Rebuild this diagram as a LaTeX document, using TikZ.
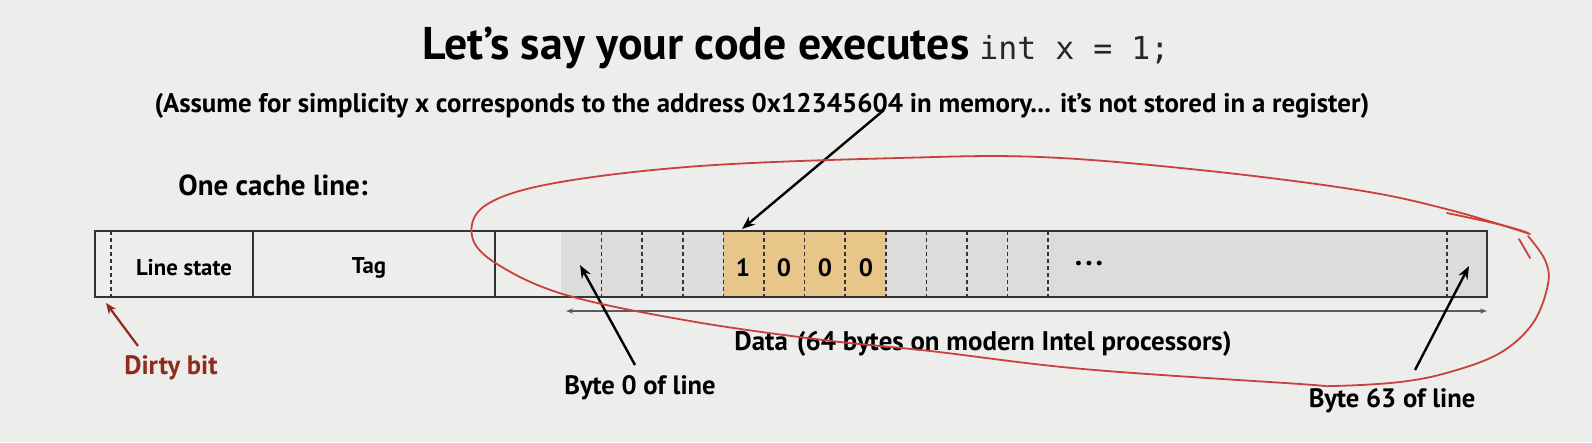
\documentclass[tikz,border=0pt]{standalone}
\usepackage{fontspec}
\newfontfamily\cf{PT Sans}
\newfontfamily\mono{DejaVu Sans Mono}
\usetikzlibrary{arrows.meta}
\definecolor{bg}{HTML}{EDEEEC}
\definecolor{cellgray}{HTML}{DCDDDB}
\definecolor{cellorange}{HTML}{E8C588}
\definecolor{boxline}{HTML}{333333}
\definecolor{dirtyred}{HTML}{8E2B1C}
\definecolor{penred}{HTML}{C9403C}
\tikzset{
  lbl/.style={font=\cf\bfseries\fontsize{26.6}{30}\selectfont, text=black, inner sep=0pt},
  inlbl/.style={font=\cf\bfseries\fontsize{22.8}{27}\selectfont, text=black, inner sep=0pt},
  digit/.style={font=\cf\bfseries\fontsize{25}{29}\selectfont, text=black, inner sep=0pt},
  sep/.style={draw=boxline, line width=1.6pt, dash pattern=on 4pt off 3pt},
  solidsep/.style={draw=boxline, line width=1.8pt},
  arr/.style={draw=black, line width=2.4pt, -{Stealth[length=13pt,width=10pt]}},
  dirtyarr/.style={draw=dirtyred, line width=2.2pt, -{Stealth[length=11pt,width=9pt]}},
  datarr/.style={draw=boxline!80, line width=1.4pt, {Stealth[length=7pt,width=5pt]}-{Stealth[length=7pt,width=5pt]}},
  pen/.style={draw=penred, line width=1.8pt, line cap=round, line join=round},
}
\begin{document}
\begin{tikzpicture}[x=1pt,y=-1pt]
\fill[bg] (0,0) rectangle (1592,442);
\useasboundingbox (0,0) rectangle (1592,442);

% title
\node[inner sep=0pt, text=black] (title) at (796,48)
  {\cf\bfseries\fontsize{45.8}{52}\selectfont Let’s say your code executes\hspace{10pt}{\mono\mdseries\fontsize{31.6}{36}\selectfont\color{black!85}int x = 1;}};
\node[lbl, font=\cf\bfseries\fontsize{26.9}{30}\selectfont] (sub) at (762,106)
  {(Assume for simplicity x corresponds to the address 0x12345604 in memory... it’s not stored in a register)};
\node[lbl, font=\cf\bfseries\fontsize{29}{33}\selectfont] (one) at (273,185) {One cache line:};

% cells
\fill[cellgray] (561,231) rectangle (1487,297);
\fill[cellorange] (723,231) rectangle (886,297);
\foreach \x in {601.6,642.2,682.8,723.4,764,804.6,845.2,885.8,926.4,967,1007.6,1048.2,1447}
  \draw[sep] (\x,231) -- (\x,297);
\draw[sep] (111,231) -- (111,297);
\draw[solidsep] (253,231) -- (253,297);
\draw[solidsep] (495,231) -- (495,297);
\draw[solidsep] (95,231) rectangle (1487,297);

\node[inlbl] (ls) at (184,268) {Line state};
\node[inlbl] (tag) at (369,268) {Tag};
\node[digit] (d1) at (743,268) {1};
\node[digit] (d2) at (784,268) {0};
\node[digit] (d3) at (825,268) {0};
\node[digit] (d4) at (866,268) {0};
\node[font=\cf\bfseries\fontsize{30}{34}\selectfont, inner sep=0pt] (dots) at (1089,264) {.\hspace{3pt}.\hspace{3pt}.};

% data span arrow
\coordinate (dl) at (566,311);
\coordinate (dr) at (1487,311);
\draw[datarr] (dl) -- (dr);
\node[lbl, font=\cf\bfseries\fontsize{26.9}{30}\selectfont] (data) at (983,344) {Data\hspace{9pt}(64 bytes on modern Intel processors)};

% labels
\node[lbl, text=dirtyred] (dirty) at (171,368) {Dirty bit};
\node[lbl] (b0) at (640,388) {Byte 0 of line};
\node[lbl] (b63) at (1392,401) {Byte 63 of line};

% arrows
\coordinate (dtail) at (138,346);
\coordinate (dtip) at (106,303);
\draw[dirtyarr] (dtail) -- (dtip);
\coordinate (b0tail) at (635,365);
\coordinate (b0tip) at (580,265);
\draw[arr] (b0tail) -- (b0tip);
\coordinate (b63tail) at (1415,370);
\coordinate (b63tip) at (1469,266);
\draw[arr] (b63tail) -- (b63tip);
\coordinate (xtail) at (884,110);
\coordinate (xtip) at (742,229);
\draw[arr] (xtail) -- (xtip);

% red hand-drawn loop
\draw[pen] plot[smooth, tension=0.6] coordinates {
  (1528,236) (1545,260) (1548,284) (1533,323) (1500,353) (1450,372) (1400,382)
  (1333,386) (1300,384) (1083,369) (930,351) (823,340) (690,321) (566,295)
  (497,264) (472,236) (486,205) (555,183) (700,166) (899,158) (1040,157)
  (1200,170) (1357,190) (1450,210) (1530,234)};
\draw[pen] (1447,213) .. controls (1480,220) and (1510,226) .. (1528,233);
\draw[pen] (1519,239) -- (1530,258);
\end{tikzpicture}
\end{document}
